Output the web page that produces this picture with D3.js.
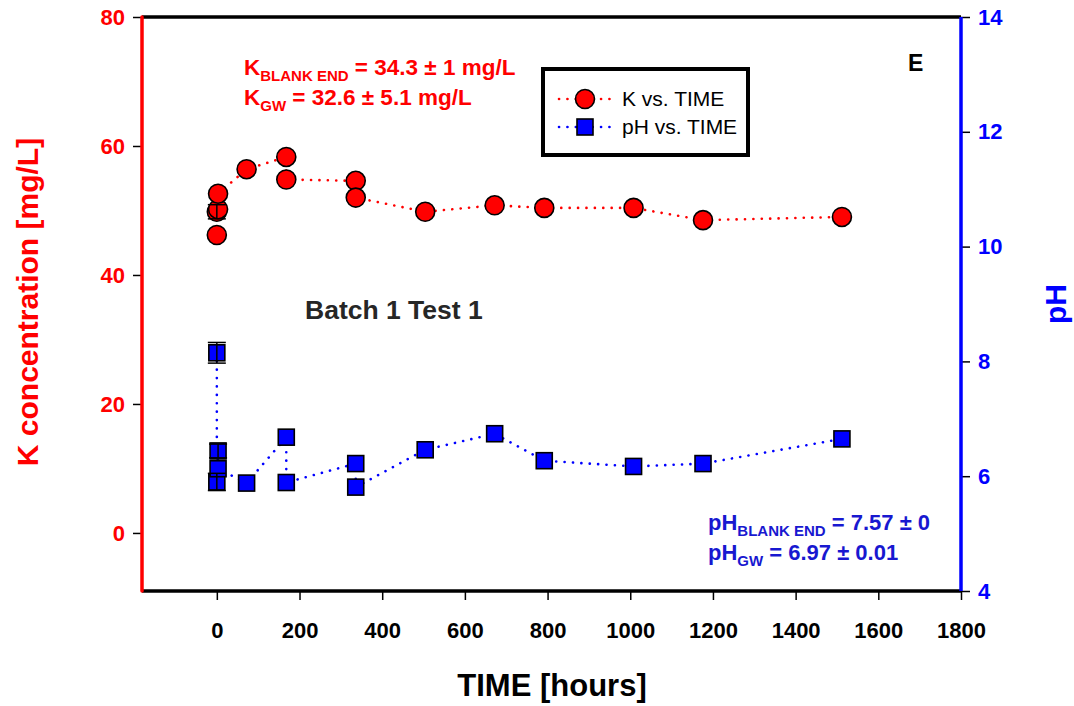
<!DOCTYPE html>
<html>
<head>
<meta charset="utf-8">
<script src="https://cdn.jsdelivr.net/npm/d3@7"></script>
<style>
  body { margin: 0; background: #fff; }
  text { font-family: "Liberation Sans", Arial, sans-serif; }
</style>
</head>
<body>
<svg id="chart" width="1074" height="706"></svg>
<script>
// Sampling times (hours) shared by both series
const hours    = [0, 0, 3, 3, 72, 168, 168, 336, 336, 504, 672, 792, 1008, 1176, 1512];
// Potassium concentration [mg/L]
const kValues  = [46.2, 49.8, 50.2, 52.6, 56.4, 58.3, 54.8, 54.6, 52.0, 49.8, 50.8, 50.4, 50.4, 48.5, 49.0];
const kErrors  = [0, 1.1, 0, 0, 0, 0, 0, 0, 0, 0, 0, 0, 0, 0, 0];
// pH
const phValues = [8.15, 5.90, 6.44, 6.13, 5.88, 6.68, 5.89, 6.22, 5.81, 6.46, 6.74, 6.27, 6.17, 6.22, 6.65];
const phErrors = [0.18, 0.15, 0.12, 0, 0, 0, 0, 0, 0, 0, 0, 0, 0, 0, 0];

// Axis ticks
const timeTicks = [0, 200, 400, 600, 800, 1000, 1200, 1400, 1600, 1800];
const kTicks    = [0, 20, 40, 60, 80];
const phTicks   = [4, 6, 8, 10, 12, 14];

const RED = "#ff0000", BLUE = "#0000ff";
const svg = d3.select("#chart");
const L = 142, R = 961, T = 17, B = 591;

const x   = d3.scaleLinear().domain([-181, 1800]).range([L, R]);
const yK  = d3.scaleLinear().domain([-9, 80]).range([B, T]);
const yPH = d3.scaleLinear().domain([4, 14]).range([B, T]);

// Axes (ticks and labels)
function styleAxis(g, color) {
  g.select(".domain").remove();
  g.selectAll(".tick line").attr("stroke", "#000").attr("stroke-width", 1.5);
  g.selectAll(".tick text").attr("fill", color)
    .style("font-size", "22px").style("font-weight", "bold")
    .style("font-family", "'Liberation Sans', Arial, sans-serif");
}
svg.append("g").attr("transform", `translate(0,${B})`)
  .call(d3.axisBottom(x).tickValues(timeTicks).tickSize(9).tickPadding(22).tickFormat(d3.format("d")))
  .call(g => styleAxis(g, "#000"));
svg.append("g").attr("transform", `translate(${L},0)`)
  .call(d3.axisLeft(yK).tickValues(kTicks).tickSize(9).tickPadding(8))
  .call(g => styleAxis(g, RED));
svg.append("g").attr("transform", `translate(${R},0)`)
  .call(d3.axisRight(yPH).tickValues(phTicks).tickSize(9).tickPadding(8))
  .call(g => styleAxis(g, BLUE));

// Frame
svg.append("line").attr("x1", L).attr("x2", R).attr("y1", T).attr("y2", T).attr("stroke", "#000").attr("stroke-width", 3.5);
svg.append("line").attr("x1", L).attr("x2", R).attr("y1", B).attr("y2", B).attr("stroke", "#000").attr("stroke-width", 3.5);
svg.append("line").attr("x1", L).attr("x2", L).attr("y1", T).attr("y2", B).attr("stroke", RED).attr("stroke-width", 3.5).attr("stroke-linecap", "round");
svg.append("line").attr("x1", R).attr("x2", R).attr("y1", T).attr("y2", B).attr("stroke", BLUE).attr("stroke-width", 3.5);

// Dotted connecting lines
const kData  = hours.map((h, i) => ({ t: h, v: kValues[i], e: kErrors[i] }));
const phData = hours.map((h, i) => ({ t: h, v: phValues[i], e: phErrors[i] }));

function dotted(data, y, color) {
  svg.append("path").datum(data)
    .attr("d", d3.line().x(d => x(d.t)).y(d => y(d.v)))
    .attr("fill", "none").attr("stroke", color).attr("stroke-width", 2.6)
    .attr("stroke-linecap", "round").attr("stroke-dasharray", "0.1 8.3");
}
dotted(kData, yK, RED);
dotted(phData, yPH, BLUE);

// Markers
svg.append("g").selectAll("circle").data(kData).join("circle")
  .attr("cx", d => x(d.t)).attr("cy", d => yK(d.v)).attr("r", 9.5)
  .attr("fill", RED).attr("stroke", "#000").attr("stroke-width", 1.6);
svg.append("g").selectAll("rect").data(phData).join("rect")
  .attr("x", d => x(d.t) - 8).attr("y", d => yPH(d.v) - 8).attr("width", 16).attr("height", 16)
  .attr("fill", BLUE).attr("stroke", "#000").attr("stroke-width", 1.6);

// Error bars
function errorBars(data, y) {
  const g = svg.append("g").attr("stroke", "#000").attr("stroke-width", 1.5);
  data.filter(d => d.e > 0).forEach(d => {
    const cx = x(d.t), y1 = y(d.v - d.e), y2 = y(d.v + d.e);
    g.append("line").attr("x1", cx).attr("x2", cx).attr("y1", y1).attr("y2", y2);
    g.append("line").attr("x1", cx - 9).attr("x2", cx + 9).attr("y1", y1).attr("y2", y1);
    g.append("line").attr("x1", cx - 9).attr("x2", cx + 9).attr("y1", y2).attr("y2", y2);
  });
}
errorBars(kData, yK);
errorBars(phData, yPH);

// Axis titles
svg.append("text").attr("transform", "translate(38,302) rotate(-90)")
  .attr("text-anchor", "middle").attr("fill", RED)
  .style("font-size", "30px").style("font-weight", "bold").text("K concentration [mg/L]");
svg.append("text").attr("transform", "translate(1066,304) rotate(-90)")
  .attr("text-anchor", "middle").attr("fill", BLUE)
  .style("font-size", "30px").style("font-weight", "bold").text("pH");
svg.append("text").attr("x", 552).attr("y", 696)
  .attr("text-anchor", "middle").attr("fill", "#000")
  .style("font-size", "31px").style("font-weight", "bold").text("TIME [hours]");

// Text with subscripts: parts = [[text, isSub], ...]
function subText(px, py, color, parts, size, subSize) {
  const t = svg.append("text").attr("x", px).attr("y", py).attr("fill", color)
    .style("font-size", size + "px").style("font-weight", "bold");
  let down = false;
  parts.forEach(([s, sub]) => {
    const ts = t.append("tspan").text(s);
    if (sub && !down) { ts.attr("dy", 6).style("font-size", subSize + "px"); down = true; }
    else if (!sub && down) { ts.attr("dy", -6); down = false; }
  });
}
subText(244, 75, RED, [["K", 0], ["BLANK END", 1], ["  = 34.3 \u00b1 1 mg/L", 0]], 22.5, 15);
subText(244, 105, RED, [["K", 0], ["GW", 1], [" = 32.6 \u00b1 5.1 mg/L", 0]], 22.5, 15);

const NAVY = "#1818d0";
subText(708, 530, NAVY, [["pH", 0], ["BLANK END", 1], [" = 7.57 \u00b1 0", 0]], 22, 15);
subText(708, 560, NAVY, [["pH", 0], ["GW", 1], [" = 6.97 \u00b1 0.01", 0]], 22, 15);

svg.append("text").attr("x", 908).attr("y", 71).attr("fill", "#000")
  .style("font-size", "23px").style("font-weight", "bold").text("E");
svg.append("text").attr("x", 305).attr("y", 319).attr("fill", "#262626")
  .style("font-size", "26.5px").style("font-weight", "bold").text("Batch 1 Test 1");

// Legend
const lg = svg.append("g");
lg.append("rect").attr("x", 543).attr("y", 69).attr("width", 205).attr("height", 86)
  .attr("fill", "#fff").attr("stroke", "#000").attr("stroke-width", 4);
const legendItems = [
  { label: "K vs. TIME", color: RED, shape: "circle", y: 99 },
  { label: "pH vs. TIME", color: BLUE, shape: "square", y: 127 }
];
legendItems.forEach(it => {
  lg.append("line").attr("x1", 559).attr("x2", 611).attr("y1", it.y).attr("y2", it.y)
    .attr("stroke", it.color).attr("stroke-width", 2.6).attr("stroke-linecap", "round")
    .attr("stroke-dasharray", "0.1 8.3");
  if (it.shape === "circle") {
    lg.append("circle").attr("cx", 585).attr("cy", it.y).attr("r", 9.5)
      .attr("fill", it.color).attr("stroke", "#000").attr("stroke-width", 1.6);
  } else {
    lg.append("rect").attr("x", 577).attr("y", it.y - 8).attr("width", 16).attr("height", 16)
      .attr("fill", it.color).attr("stroke", "#000").attr("stroke-width", 1.6);
  }
  lg.append("text").attr("x", 622).attr("y", it.y + 7).attr("fill", "#000")
    .style("font-size", "21px").text(it.label);
});
</script>
</body>
</html>
